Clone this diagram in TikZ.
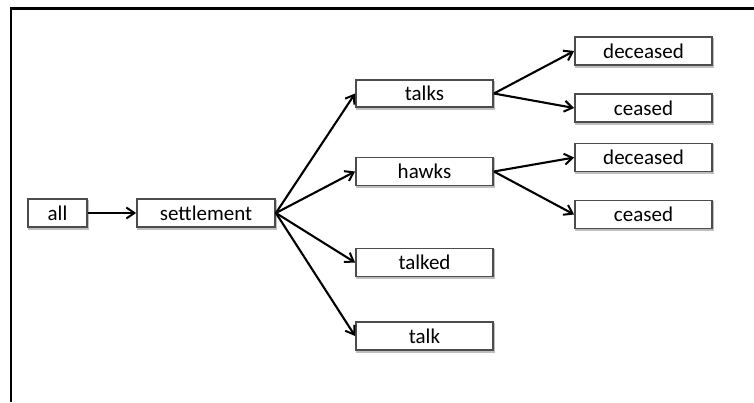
\documentclass[tikz,border=0pt]{standalone}
\usepackage{fontspec}
\setmainfont{Carlito}
\usetikzlibrary{arrows.meta}
\begin{document}
\begin{tikzpicture}[x=1pt,y=-1pt,
  wbox/.style={draw=black!70, line width=1.8pt, fill=white, minimum height=28pt, inner sep=0pt,
    font=\fontsize{21}{24}\selectfont, text=black,
    preaction={draw=black!25, line width=2pt, transform canvas={shift={(1.2pt,-1.5pt)}}}},
  link/.style={line width=2.1pt, -{Straight Barb[length=8pt,width=11pt,line width=2pt]}}]
\useasboundingbox (0,0) rectangle (754,402);
\draw[line width=2.2pt] (11,402) -- (11,8.5) -- (754,8.5);
\node[wbox, minimum width=59pt] (all) at (57.5,213) {all};
\node[wbox, minimum width=138pt] (set) at (206,213) {settlement};
\node[wbox, minimum width=137pt, minimum height=27pt] (talks) at (424.5,93.5) {talks};
\node[wbox, minimum width=137pt] (hawks) at (424.5,171.5) {hawks};
\node[wbox, minimum width=137pt] (talked) at (424.5,262.5) {talked};
\node[wbox, minimum width=137pt] (talk) at (424.5,336) {talk};
\node[wbox, minimum width=137pt] (dec1) at (643.5,51) {deceased};
\node[wbox, minimum width=137pt] (ces1) at (643.5,108) {ceased};
\node[wbox, minimum width=137pt] (dec2) at (643.5,157.5) {deceased};
\node[wbox, minimum width=137pt] (ces2) at (643.5,214.5) {ceased};
\draw[link] (all.east) -- (set.west);
\draw[link] (set.east) -- (talks.west);
\draw[link] (set.east) -- (hawks.west);
\draw[link] (set.east) -- (talked.west);
\draw[link] (set.east) -- (talk.west);
\draw[link] (talks.east) -- (dec1.west);
\draw[link] (talks.east) -- (ces1.west);
\draw[link] (hawks.east) -- (dec2.west);
\draw[link] (hawks.east) -- (ces2.west);
\end{tikzpicture}
\end{document}
